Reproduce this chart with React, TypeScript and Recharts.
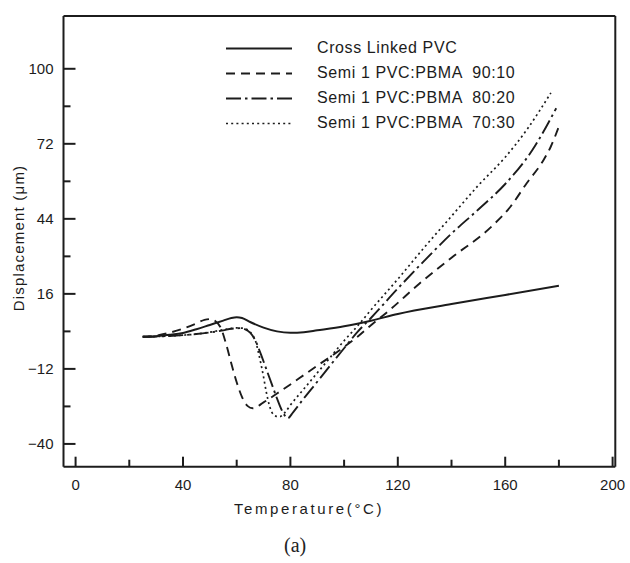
import React from 'react';
import { LineChart, Line, XAxis, YAxis, Legend, Label, ReferenceLine } from 'recharts';

// ---------- data ----------
const xTicks = [0, 20, 40, 60, 80, 100, 120, 140, 160, 180, 200];
const xTickLabels = ['0', '', '40', '', '80', '', '120', '', '160', '', '200'];
const yTicks = [-40, -26, -12, 2, 16, 30, 44, 58, 72, 86, 100];
const yTickLabels = ['−40', '', '−12', '', '16', '', '44', '', '72', '', '100'];
const xDomain = [-4.5, 201];
const yDomain = [-48.5, 119.7];

const seriesNames = [
  'Cross Linked PVC',
  'Semi 1 PVC:PBMA  90:10',
  'Semi 1 PVC:PBMA  80:20',
  'Semi 1 PVC:PBMA  70:30',
];

const crossT = [25, 30, 35, 40, 45, 50, 55, 58, 60, 62, 65, 70, 75, 80, 85, 90, 100, 110, 120, 140, 160, 180];
const crossV = [0, 0.2, 0.7, 1.4, 2.8, 4.4, 6.0, 7.0, 7.3, 7.0, 5.5, 3.4, 2.0, 1.5, 1.7, 2.4, 3.9, 6.0, 8.5, 12.2, 15.6, 19.0];

const s9010T = [25, 30, 35, 40, 45, 48, 50, 52, 54, 56, 58, 60, 62, 64, 66, 70, 75, 80, 85, 90, 95, 100, 105, 110, 117, 128, 140, 155, 162, 168, 174, 177, 180];
const s9010V = [0, 0.4, 1.5, 3.0, 5.0, 6.3, 6.6, 5.9, 3.5, -2.5, -10, -17, -22.5, -25.8, -26.7, -24.5, -21.2, -17.8, -14.3, -10.8, -7.4, -3.8, 0, 4.3, 10, 19.8, 29.5, 41.2, 48.6, 57.3, 65.5, 71, 78.5];

const s8020T = [25, 30, 35, 40, 45, 50, 55, 58, 61, 63, 65, 67, 69, 71, 73, 75, 77, 79, 81, 85, 90, 95, 100, 105, 110, 120, 130, 140, 150, 160, 170, 179];
const s8020V = [0, 0.1, 0.3, 0.6, 1.0, 1.6, 2.4, 3.0, 3.2, 2.8, 1.5, -1.5, -6.5, -12, -17.5, -23, -27.8, -30.4, -28.2, -23.0, -16.8, -10.5, -4.3, 1.8, 7.0, 18, 28.5, 38.5, 47.5, 57, 69.5, 85.3];

const s7030T = [25, 30, 35, 40, 45, 50, 55, 58, 60, 62, 64, 65, 66, 67, 68, 69, 70, 71, 72, 73, 74.5, 76, 78, 80, 85, 90, 95, 100, 105, 110, 120, 130, 140, 150, 160, 168, 177];
const s7030V = [0, 0.1, 0.3, 0.6, 1.0, 1.7, 2.6, 3.1, 3.3, 3.2, 2.6, 1.8, 0.5, -1.5, -5.5, -10, -15, -20.5, -25, -28, -29.6, -29.8, -28.2, -25.5, -19.5, -13.5, -7.5, -1.5, 4.0, 10, 21.5, 33.5, 45, 56.5, 67, 77.2, 91];

const toData = (t: number[], v: number[]) => t.map((x, i) => ({ t: x, v: v[i] }));

const INK = '#1c1c1c';
const FONT = '"Liberation Sans", Arial, sans-serif';

const styles = [
  { dash: undefined as string | undefined, width: 2 },
  { dash: '9 6', width: 1.9 },
  { dash: '15 4 2.5 4', width: 1.9 },
  { dash: '2 3.2', width: 1.7 },
];

const seriesData = [
  toData(crossT, crossV),
  toData(s9010T, s9010V),
  toData(s8020T, s8020V),
  toData(s7030T, s7030V),
];

// ---------- ticks ----------
const XTick = (props: any) => {
  const { x, y, payload } = props;
  const idx = xTicks.indexOf(payload.value);
  const label = xTickLabels[idx];
  const major = label !== '';
  return (
    <g>
      <line x1={x} x2={x} y1={y} y2={y - (major ? 10 : 7)} stroke={INK} strokeWidth={2} />
      {label && (
        <text x={x} y={y + 18} textAnchor="middle" dominantBaseline="central" fontSize={15} fill={INK} fontFamily={FONT}>
          {label}
        </text>
      )}
    </g>
  );
};

const YTick = (props: any) => {
  const { x, y, payload } = props;
  const idx = yTicks.indexOf(payload.value);
  const label = yTickLabels[idx];
  const major = label !== '';
  return (
    <g>
      <line x1={x} x2={x + (major ? 12 : 7)} y1={y} y2={y} stroke={INK} strokeWidth={2} />
      {label && (
        <text x={x - 10} y={y} textAnchor="end" dominantBaseline="central" fontSize={15} fill={INK} fontFamily={FONT}>
          {label}
        </text>
      )}
    </g>
  );
};

const LegendBox = () => (
  <div style={{ fontFamily: FONT, fontSize: 16, color: INK }}>
    {seriesNames.map((n, i) => (
      <div key={n} style={{ display: 'flex', alignItems: 'center', height: 25 }}>
        <svg width={66} height={25} style={{ display: 'block' }}>
          <line x1={0} x2={66} y1={12.5} y2={12.5} stroke={INK} strokeWidth={styles[i].width} strokeDasharray={styles[i].dash} />
        </svg>
        <span style={{ marginLeft: 25, whiteSpace: 'pre', letterSpacing: 0.6 }}>{n}</span>
      </div>
    ))}
  </div>
);

export default function App() {
  return (
    <div style={{ position: 'absolute', left: 0, top: 0, width: 630, height: 563, background: '#fff' }}>
      <LineChart width={630} height={563} margin={{ top: 16, right: 14.7, bottom: 56.3, left: 0 }}>
        <XAxis
          dataKey="t"
          type="number"
          domain={xDomain}
          ticks={xTicks}
          interval={0}
          allowDataOverflow
          tick={XTick}
          tickSize={0}
          tickMargin={0}
          tickLine={false}
          height={40}
          axisLine={{ stroke: INK, strokeWidth: 2 }}
        >
          <Label
            content={() => (
              <text x={309} y={508} textAnchor="middle" dominantBaseline="central" fontSize={15} fill={INK} fontFamily={FONT} letterSpacing={2.6}>
                Temperature(°C)
              </text>
            )}
          />
        </XAxis>
        <YAxis
          type="number"
          domain={yDomain}
          ticks={yTicks}
          interval={0}
          allowDataOverflow
          tick={YTick}
          tickSize={0}
          tickMargin={0}
          tickLine={false}
          width={63.5}
          axisLine={{ stroke: INK, strokeWidth: 2 }}
        >
          <Label
            content={() => (
              <text x={18} y={238} transform="rotate(-90 18 238)" textAnchor="middle" dominantBaseline="central" fontSize={15} fill={INK} fontFamily={FONT} letterSpacing={1.2}>
                Displacement (μm)
              </text>
            )}
          />
        </YAxis>
        <ReferenceLine y={yDomain[1]} stroke={INK} strokeWidth={2} ifOverflow="visible" />
        <ReferenceLine x={xDomain[1]} stroke={INK} strokeWidth={2} ifOverflow="visible" />
        {seriesData.map((d, i) => (
          <Line
            key={seriesNames[i]}
            data={d}
            dataKey="v"
            name={seriesNames[i]}
            type="monotone"
            stroke={INK}
            strokeWidth={styles[i].width}
            strokeDasharray={styles[i].dash}
            dot={false}
            activeDot={false}
            isAnimationActive={false}
          />
        ))}
        <Legend
          content={<LegendBox />}
          layout="vertical"
          verticalAlign="middle"
          align="center"
          wrapperStyle={{ position: 'absolute', left: 226, top: 35.5, width: 330 }}
        />
      </LineChart>
      <div
        style={{
          position: 'absolute',
          left: 0,
          width: 600,
          top: 534,
          fontFamily: '"Liberation Serif", "Times New Roman", serif',
          fontSize: 20,
          color: '#222',
        }}
      >
        <span style={{ position: 'absolute', left: 284 }}>(a)</span>
      </div>
    </div>
  );
}
